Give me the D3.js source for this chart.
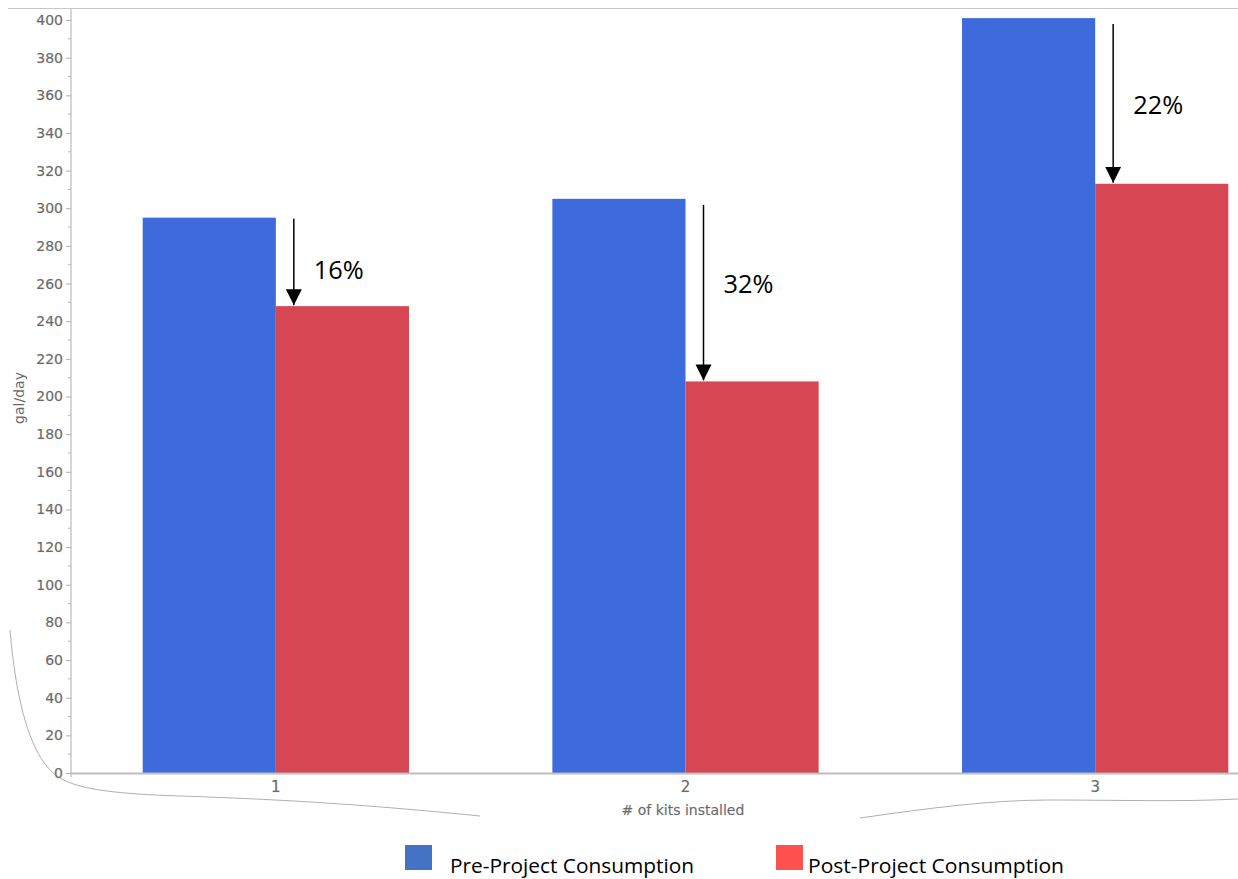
<!DOCTYPE html>
<html>
<head>
<meta charset="utf-8">
<script src="https://cdn.jsdelivr.net/npm/d3@7"></script>
<style>
  html, body { margin: 0; padding: 0; background: #fff; }
  svg { display: block; }
  .tick text { font-family: "DejaVu Sans", sans-serif; }
</style>
</head>
<body>
<svg id="chart" width="1238" height="879"></svg>
<script>
// Average daily water use per household, before and after kit installation
const categories = ["1", "2", "3"];
const preValues = [295, 305, 401];
const postValues = [248, 208, 313];
const reductionLabels = ["16%", "32%", "22%"];
const yTicks = [0, 20, 40, 60, 80, 100, 120, 140, 160, 180, 200, 220, 240, 260, 280, 300, 320, 340, 360, 380, 400];
const seriesNames = ["Pre-Project Consumption", "Post-Project Consumption"];

const svg = d3.select("#chart");
const plotLeft = 71, plotRight = 1300, plotTop = 20, plotBottom = 773;

const x = d3.scaleBand().domain(categories).range([plotLeft, plotRight]).paddingInner(0.35).paddingOuter(0.175);
const xSub = d3.scaleBand().domain([0, 1]).range([0, x.bandwidth()]);
const y = d3.scaleLinear().domain([0, 400]).range([plotBottom, plotTop]);

// frame lines
svg.append("line").attr("x1", 8).attr("x2", 1238).attr("y1", 8.5).attr("y2", 8.5)
  .attr("stroke", "#c8c8c8").attr("stroke-width", 1);
svg.append("line").attr("x1", plotLeft).attr("x2", plotLeft).attr("y1", 8).attr("y2", plotBottom + 4)
  .attr("stroke", "#c8c8c8").attr("stroke-width", 1.5);

// decorative edge curves
svg.append("path")
  .attr("d", "M10,630 C16,700 30,760 60,778 C80,790 120,794 180,796 C300,800 380,806 480,816")
  .attr("fill", "none").attr("stroke", "#9a9a9a").attr("stroke-width", 0.8);
svg.append("path")
  .attr("d", "M860,818 C930,808 990,800 1050,800 C1120,800 1180,802 1238,799")
  .attr("fill", "none").attr("stroke", "#9a9a9a").attr("stroke-width", 0.8);

// bars
const colors = ["#3d6bdb", "#d64653"];
const groups = svg.append("g").selectAll("g").data(categories).join("g")
  .attr("transform", d => `translate(${x(d)},0)`);
groups.append("rect")
  .attr("x", xSub(0)).attr("width", xSub.bandwidth())
  .attr("y", (d, i) => y(preValues[i])).attr("height", (d, i) => y(0) - y(preValues[i]))
  .attr("fill", colors[0]);
groups.append("rect")
  .attr("x", xSub(1)).attr("width", xSub.bandwidth())
  .attr("y", (d, i) => y(postValues[i])).attr("height", (d, i) => y(0) - y(postValues[i]))
  .attr("fill", colors[1]);

// y axis
const yAxis = d3.axisLeft(y).tickValues(yTicks).tickSize(5).tickPadding(3);
const gy = svg.append("g").attr("transform", `translate(${plotLeft},0)`).call(yAxis);
gy.select(".domain").remove();
gy.selectAll(".tick line").attr("stroke", "#b0b0b0");
gy.selectAll(".tick text")
  .attr("font-size", 14).attr("fill", "#6a6a6a")
  .attr("stroke", "#d8d8d8").attr("stroke-width", 0.6).attr("paint-order", "stroke");
// minor ticks
const minor = d3.range(10, 400, 20);
svg.append("g").selectAll("line").data(minor).join("line")
  .attr("x1", plotLeft - 3).attr("x2", plotLeft).attr("y1", d => y(d)).attr("y2", d => y(d))
  .attr("stroke", "#b8b8b8");

// x axis
const xAxis = d3.axisBottom(x).tickSize(0).tickPadding(8);
const gx = svg.append("g").attr("transform", `translate(0,${plotBottom})`).call(xAxis);
gx.select(".domain").attr("d", `M${plotLeft},0.5H1238`).attr("stroke", "#bdbdbd").attr("stroke-width", 2);
gx.selectAll(".tick text")
  .attr("font-size", 15).attr("fill", "#6a6a6a")
  .attr("stroke", "#d8d8d8").attr("stroke-width", 0.6).attr("paint-order", "stroke");

// axis titles
svg.append("text").attr("x", 683).attr("y", 815).attr("text-anchor", "middle")
  .attr("font-family", "DejaVu Sans, sans-serif").attr("font-size", 14).attr("fill", "#6a6a6a")
  .attr("stroke", "#d8d8d8").attr("stroke-width", 0.5).attr("paint-order", "stroke")
  .text("# of kits installed");
svg.append("text").attr("transform", "translate(24,398) rotate(-90)").attr("text-anchor", "middle")
  .attr("font-family", "DejaVu Sans, sans-serif").attr("font-size", 14).attr("fill", "#6a6a6a")
  .text("gal/day");

// reduction arrows
const defs = svg.append("defs");
defs.append("marker").attr("id", "arrowhead").attr("viewBox", "0 0 10 10")
  .attr("refX", 10).attr("refY", 5).attr("markerWidth", 16).attr("markerHeight", 18)
  .attr("markerUnits", "userSpaceOnUse").attr("orient", "auto")
  .append("path").attr("d", "M0,0L10,5L0,10Z").attr("fill", "#000");
const arrowOffset = 18;
const labelDy = [61, 94, 96];
categories.forEach((c, i) => {
  const ax = x(c) + xSub(1) + arrowOffset;
  const yStart = y(preValues[i]) + 1 + (i > 0 ? 5 : 0);
  svg.append("line").attr("x1", ax).attr("x2", ax)
    .attr("y1", yStart).attr("y2", y(postValues[i]) - 1)
    .attr("stroke", "#000").attr("stroke-width", 1.5).attr("marker-end", "url(#arrowhead)");
  svg.append("text").attr("x", ax + 20).attr("y", y(preValues[i]) + labelDy[i])
    .attr("font-family", "Open Sans, sans-serif").attr("font-size", 25).attr("fill", "#000")
    .attr("textLength", 50).attr("lengthAdjust", "spacingAndGlyphs")
    .text(reductionLabels[i]);
});

// legend
const legend = svg.append("g");
const legendPos = [{sx: 405, tx: 450, w: 244}, {sx: 776, tx: 808, w: 256}];
const legendColors = ["#4472c4", "#ff5050"];
seriesNames.forEach((n, i) => {
  legend.append("rect").attr("x", legendPos[i].sx).attr("y", 845).attr("width", 27).attr("height", 25)
    .attr("fill", legendColors[i]);
  legend.append("text").attr("x", legendPos[i].tx).attr("y", 873)
    .attr("font-family", "Open Sans, sans-serif").attr("font-size", 20).attr("fill", "#000")
    .attr("textLength", legendPos[i].w).attr("lengthAdjust", "spacingAndGlyphs")
    .text(n);
});
</script>
</body>
</html>
